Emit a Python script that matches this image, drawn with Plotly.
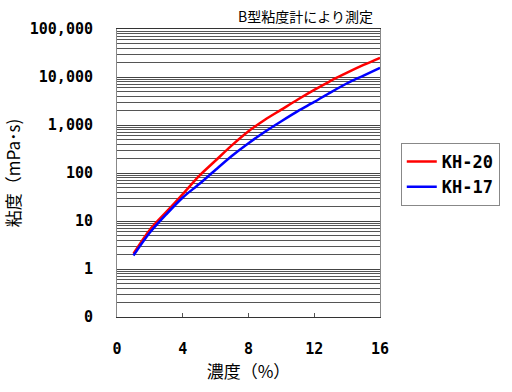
import plotly.graph_objects as go

conc = [1, 2, 3, 4, 5, 6, 7, 8, 9, 10, 11, 12, 13, 14, 15, 16]
kh20 = [2.09, 6.6, 15.5, 36.3, 87, 182, 380, 741, 1290, 2090, 3390, 5370, 8320, 12300, 17800, 25100]
kh17 = [1.91, 5.75, 13.8, 30.9, 58.9, 117, 229, 417, 724, 1200, 1950, 3020, 4790, 7410, 10700, 15500]

ytickvals = [0.1, 1, 10, 100, 1000, 10000, 100000]
yticktext = ["0", "1", "10", "100", "1,000", "10,000", "100,000"]
xtickvals = [0, 4, 8, 12, 16]

num_font = dict(family="DejaVu Sans Mono", size=15, color="black", weight="bold")
jp = "Noto Sans CJK JP"

fig = go.Figure()
fig.add_trace(go.Scatter(x=conc, y=kh20, name="KH-20", mode="lines",
                         line=dict(color="#ff0000", width=2.5, shape="spline", smoothing=0.8)))
fig.add_trace(go.Scatter(x=conc, y=kh17, name="KH-17", mode="lines",
                         line=dict(color="#0000ff", width=2.5, shape="spline", smoothing=0.8)))

fig.update_layout(
    width=512, height=392,
    margin=dict(l=117, r=128, t=29, b=75),
    paper_bgcolor="white", plot_bgcolor="white",
    showlegend=True,
    legend=dict(x=1.079, y=0.604, xanchor="left", yanchor="top",
                bgcolor="white", bordercolor="#888888", borderwidth=1,
                font=dict(family="DejaVu Sans Mono", size=17, color="black", weight="bold"),
                itemwidth=30),
    annotations=[dict(text="B型粘度計により測定", x=0.717, y=1.0, xref="paper", yref="paper",
                      xanchor="center", yanchor="bottom", yshift=1, showarrow=False,
                      font=dict(family=jp, size=14, color="black"))],
)

fig.update_xaxes(
    range=[0, 16], tickvals=xtickvals, ticks="inside", ticklen=4, tickcolor="#555",
    showgrid=False, zeroline=False, showline=True, linecolor="#333", linewidth=1, mirror=True,
    tickfont=num_font, ticklabelstandoff=18, automargin=False,
    title=dict(text="濃度（%）", font=dict(family=jp, size=17, color="black"), standoff=2),
)
fig.update_yaxes(
    type="log", range=[-1, 5], tickvals=ytickvals, ticktext=yticktext,
    showgrid=True, gridcolor="#444444", gridwidth=1,
    minor=dict(dtick="D1", showgrid=True, gridcolor="#555555", gridwidth=1, ticks=""),
    zeroline=False, showline=True, linecolor="#888", linewidth=1, mirror=True,
    tickfont=num_font, ticklabelstandoff=20, ticks="", automargin=False,
    title=dict(text="粘度（mPa･s)", font=dict(family=jp, size=17, color="black"), standoff=8),
)

fig.write_html("out.html", config={"displayModeBar": False},
               post_script="document.body.style.margin='0';")
